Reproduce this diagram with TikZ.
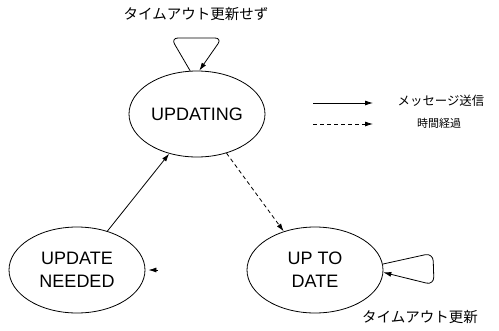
\documentclass[tikz,border=0pt]{standalone}
\usepackage{fontspec}
\setmainfont{Liberation Sans}
\newfontfamily\jpfont{Noto Sans CJK JP}
\usetikzlibrary{shapes.geometric,arrows.meta}
\begin{document}
\begin{tikzpicture}[x=1pt,y=-1pt,
  state/.style={ellipse,draw,line width=0.8pt,minimum width=136pt,minimum height=86pt,inner sep=0pt,align=center,font=\fontsize{18}{23}\selectfont},
  arr/.style={line width=0.8pt,-{Latex[length=8pt,width=5pt]}},
  dasharr/.style={arr,dash pattern=on 4pt off 3pt},
  jplabel/.style={font=\jpfont\fontsize{14.5}{16}\selectfont,inner sep=0pt}]
\useasboundingbox (0,0) rectangle (499,330);
\node[state] (upd) at (197,114) {UPDATING};
\node[state] (need) at (77,270) {UPDATE\\NEEDED};
\node[state] (utd) at (315,270) {UP TO\\DATE};
% transitions
\draw[arr] (need.52) -- (upd.235);
\draw[dasharr] (upd.307) -- (utd.129);
% self loops
\draw[arr,rounded corners=7pt] (upd.99) -- (171,38) -- (222,38) -- (upd.87);
\draw[arr,rounded corners=8pt] (utd.5) -- (433,253) -- (434,285) -- (utd.-2);
% stub arrowhead
\coordinate (stub) at (158,270);
\draw[arr] (stub) -- ([xshift=3pt]need.east);
% labels
\node[jplabel] (toplbl) at (196,14) {タイムアウト更新せず};
\node[jplabel] (botlbl) at (420,317) {タイムアウト更新};
% legend
\coordinate (la1) at (313,103); \coordinate (lb1) at (373,103);
\coordinate (la2) at (313,124); \coordinate (lb2) at (373,124);
\draw[arr] (la1) -- (lb1);
\draw[dasharr] (la2) -- (lb2);
\node[font=\jpfont\fontsize{12.4}{14}\selectfont,inner sep=0pt] (leg1) at (441,101) {メッセージ送信};
\node[font=\jpfont\fontsize{11}{13}\selectfont,inner sep=0pt] (leg2) at (439,123) {時間経過};
\end{tikzpicture}
\end{document}
